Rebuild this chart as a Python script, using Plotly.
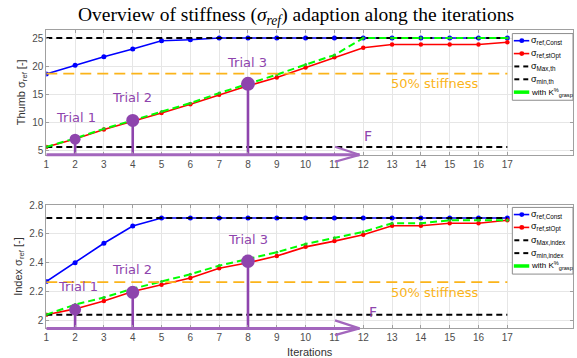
import plotly.graph_objects as go

# ---------------- data ----------------
iterations = list(range(1, 18))
x_tick_vals = list(range(1, 18))

thumb_const = [18.6, 20.2, 21.7, 23.1, 24.55, 24.75, 25.05, 25.05, 25.05, 25.05,
               25.05, 25.05, 25.05, 25.05, 25.05, 25.05, 25.05]
thumb_stopt = [5.56, 7.0, 8.68, 10.1, 11.65, 13.2, 14.9, 16.5, 18.0, 19.8,
               21.6, 23.3, 23.9, 23.9, 23.9, 23.9, 24.3]
thumb_grasp = [5.56, 7.1, 8.8, 10.3, 11.9, 13.4, 15.2, 16.8, 18.5, 20.3,
               22.0, 25.05, 25.05, 25.05, 25.05, 25.05, 25.05]
thumb_max = 25.05
thumb_min = 5.56
thumb_half = 18.7
thumb_yticks = [5, 10, 15, 20, 25]

index_const = [2.27, 2.40, 2.535, 2.655, 2.71, 2.71, 2.71, 2.71, 2.71, 2.71,
               2.71, 2.71, 2.71, 2.71, 2.71, 2.71, 2.71]
index_stopt = [2.04, 2.08, 2.135, 2.20, 2.247, 2.294, 2.362, 2.40, 2.446, 2.51,
               2.55, 2.594, 2.656, 2.656, 2.674, 2.674, 2.694]
index_grasp = [2.04, 2.11, 2.159, 2.22, 2.27, 2.32, 2.38, 2.424, 2.473, 2.53,
               2.574, 2.614, 2.674, 2.674, 2.694, 2.694, 2.694]
index_max = 2.71
index_min = 2.04
index_half = 2.265
index_yticks = [2.0, 2.2, 2.4, 2.6, 2.8]
index_yticklabels = ["2", "2.2", "2.4", "2.6", "2.8"]

trial_iters = [2, 4, 8]
trial_labels = ["Trial 1", "Trial 2", "Trial 3"]
thumb_trial = [6.95, 10.3, 16.85]
index_trial = [2.075, 2.195, 2.41]
force_arrow_end = 11.87

legend_thumb = ["σ<sub>ref,Const</sub>", "σ<sub>ref,stOpt</sub>", "σ<sub>Max,th</sub>",
                "σ<sub>min,th</sub>", "with K<sup>%</sup><sub>grasp</sub>"]
legend_index = ["σ<sub>ref,Const</sub>", "σ<sub>ref,stOpt</sub>", "σ<sub>Max,index</sub>",
                "σ<sub>min,index</sub>", "with K<sup>%</sup><sub>grasp</sub>"]

# ---------------- styling ----------------
W, H = 577, 358
BLUE = "#0000ff"
RED = "#ff0000"
GREEN = "#00ff00"
BLACK = "#000000"
ORANGE = "#fbb41a"
PURPLE = "#8e44ad"
PURPLE_ARROW = "#a366bd"
HAND_FONT = "DejaVu Sans"


def pxx(p):
    return p / W


def pxy(p):
    return 1 - p / H


fig = go.Figure()


def add_panel(xa, ya, const, stopt, grasp, vmax, vmin, half, trial_vals, sizes):
    xmax = [iterations[0], iterations[-1]]
    fig.add_trace(go.Scatter(x=iterations, y=const, mode="lines+markers", xaxis=xa, yaxis=ya,
                             line=dict(color=BLUE, width=1.6),
                             marker=dict(color=BLUE, size=5), showlegend=False))
    fig.add_trace(go.Scatter(x=iterations, y=stopt, mode="lines+markers", xaxis=xa, yaxis=ya,
                             line=dict(color=RED, width=1.6),
                             marker=dict(color=RED, size=4.5), showlegend=False))
    fig.add_trace(go.Scatter(x=xmax, y=[vmax, vmax], mode="lines", xaxis=xa, yaxis=ya,
                             line=dict(color=BLACK, width=2, dash="6px,4px"), showlegend=False))
    fig.add_trace(go.Scatter(x=xmax, y=[vmin, vmin], mode="lines", xaxis=xa, yaxis=ya,
                             line=dict(color=BLACK, width=2, dash="6px,4px"), showlegend=False))
    fig.add_trace(go.Scatter(x=iterations, y=grasp, mode="lines+markers", xaxis=xa, yaxis=ya,
                             line=dict(color=GREEN, width=2, dash="7px,4px"),
                             marker=dict(color="#22cc22", size=3), showlegend=False))
    fig.add_trace(go.Scatter(x=xmax, y=[half, half], mode="lines", xaxis=xa, yaxis=ya,
                             line=dict(color=ORANGE, width=1.8, dash="11px,6px"), showlegend=False))
    # stems
    sx, sy = [], []
    for xi, vi in zip(trial_iters, trial_vals):
        sx += [xi, xi, None]
        sy += [0, vi, None]
    fig.add_trace(go.Scatter(x=sx, y=sy, mode="lines", xaxis=xa, yaxis=ya,
                             line=dict(color=PURPLE, width=2.6), showlegend=False))
    fig.add_trace(go.Scatter(x=trial_iters, y=trial_vals, mode="markers", xaxis=xa, yaxis=ya,
                             marker=dict(color=PURPLE, size=sizes, opacity=1,
                                         line=dict(width=0)), showlegend=False))


add_panel("x", "y", thumb_const, thumb_stopt, thumb_grasp, thumb_max, thumb_min, thumb_half,
          thumb_trial, [11, 13, 14])
add_panel("x2", "y2", index_const, index_stopt, index_grasp, index_max, index_min, index_half,
          index_trial, [12, 13, 13.5])

axis_common = dict(showline=True, linecolor="#a0a0a0", linewidth=1, mirror="ticks",
                   ticks="inside", ticklen=3, tickcolor="#a0a0a0",
                   showgrid=True, gridcolor="#e6e6e6", gridwidth=1, zeroline=False,
                   tickfont=dict(family="Liberation Sans, Arial", size=10, color="#4d4d4d"))

x_dom = [pxx(43.5), pxx(573)]
fig.update_layout(
    xaxis=dict(domain=x_dom, range=[1, 19.28], tickvals=x_tick_vals, anchor="y", **axis_common),
    yaxis=dict(domain=[pxy(157.3), pxy(26)], range=[4.15, 26.53], tickvals=thumb_yticks,
               anchor="x",
               title=dict(text="Thumb σ<sub>ref</sub> [-]", standoff=4,
                          font=dict(family="Liberation Sans, Arial", size=11, color="#333333")),
               **axis_common),
    xaxis2=dict(domain=x_dom, range=[1, 19.28], tickvals=x_tick_vals, anchor="y2",
                title=dict(text="Iterations", standoff=7,
                           font=dict(family="Liberation Sans, Arial", size=11, color="#333333")),
                **axis_common),
    yaxis2=dict(domain=[pxy(339.5), pxy(209.7)], range=[1.945, 2.802], tickvals=index_yticks,
                ticktext=index_yticklabels, anchor="x2",
                title=dict(text="Index σ<sub>ref</sub> [-]", standoff=4,
                           font=dict(family="Liberation Sans, Arial", size=11, color="#333333")),
                **axis_common),
)

fig.update_layout(
    width=W, height=H, margin=dict(l=0, r=0, t=0, b=0),
    paper_bgcolor="white", plot_bgcolor="white", showlegend=False,
    title=dict(text="Overview of stiffness (<i>σ<sub>ref</sub></i>) adaption along the iterations",
               x=pxx(296), y=pxy(14), xanchor="center", yanchor="middle",
               font=dict(family="Liberation Serif, DejaVu Serif", size=19.5, color="#000000")),
)

shapes = []
annotations = []

# force arrows along the bottom of each panel
for xr, yr in [("x", "y domain"), ("x2", "y2 domain")]:
    shapes.append(dict(type="line", xref=xr, yref=yr, x0=iterations[0], x1=force_arrow_end,
                       y0=0, y1=0, line=dict(color=PURPLE_ARROW, width=3)))
    shapes.append(dict(type="line", xref=xr, yref=yr, x0=force_arrow_end - 0.85, y0=0.065,
                       x1=force_arrow_end, y1=0, line=dict(color=PURPLE_ARROW, width=2.2)))
    shapes.append(dict(type="line", xref=xr, yref=yr, x0=force_arrow_end - 0.85, y0=-0.055,
                       x1=force_arrow_end, y1=0, line=dict(color=PURPLE_ARROW, width=2.2)))

# hand-written style annotations
hand = dict(family=HAND_FONT, size=13, color=PURPLE)
orange_font = dict(family=HAND_FONT, size=13, color=ORANGE)
top_pos = [(2.02, 10.85), (3.99, 14.43), (7.95, 20.6)]
bot_pos = [(2.1, 2.232), (3.98, 2.353), (8.0, 2.564)]
for lbl, (tx, ty) in zip(trial_labels, top_pos):
    annotations.append(dict(text=lbl, x=tx, y=ty, xref="x", yref="y", showarrow=False, font=hand))
for lbl, (tx, ty) in zip(trial_labels, bot_pos):
    annotations.append(dict(text=lbl, x=tx, y=ty, xref="x2", yref="y2", showarrow=False, font=hand))
annotations.append(dict(text="50% stiffness", x=14.48, y=17.0, xref="x", yref="y",
                        showarrow=False, font=orange_font))
annotations.append(dict(text="50% stiffness", x=14.48, y=2.194, xref="x2", yref="y2",
                        showarrow=False, font=orange_font))
annotations.append(dict(text="F", x=12.17, y=7.5, xref="x", yref="y", showarrow=False,
                        font=dict(family=HAND_FONT, size=14, color=PURPLE)))
annotations.append(dict(text="F", x=12.34, y=2.062, xref="x2", yref="y2", showarrow=False,
                        font=dict(family=HAND_FONT, size=14, color=PURPLE)))


def add_legend(top_px, labels):
    left, right, height = 512, 573, 70
    shapes.append(dict(type="rect", xref="paper", yref="paper",
                       x0=pxx(left), x1=pxx(right), y0=pxy(top_px + height), y1=pxy(top_px),
                       fillcolor="white", line=dict(color="#8c8c8c", width=1)))
    row_off = [7.5, 21, 34.5, 48, 61.5]
    styles = [(BLUE, "solid", 1.6, True, 9), (RED, "solid", 1.6, True, 9),
              (BLACK, "dash", 2, False, 9), (BLACK, "dash", 2, False, 9),
              (GREEN, "solid", 3.5, False, 8)]
    for off, lbl, (col, dash, w, mk, fs) in zip(row_off, labels, styles):
        yy = pxy(top_px + off)
        if dash == "dash":
            for a, b in [(514, 519), (523, 528)]:
                shapes.append(dict(type="line", xref="paper", yref="paper", x0=pxx(a), x1=pxx(b),
                                   y0=yy, y1=yy, line=dict(color=col, width=w)))
        else:
            shapes.append(dict(type="line", xref="paper", yref="paper", x0=pxx(513.5), x1=pxx(529),
                               y0=yy, y1=yy, line=dict(color=col, width=w)))
        if mk:
            shapes.append(dict(type="circle", xref="paper", yref="paper",
                               x0=pxx(519), x1=pxx(524), y0=pxy(top_px + off + 2.5),
                               y1=pxy(top_px + off - 2.5), fillcolor=col, line=dict(color=col, width=0)))
        annotations.append(dict(text=lbl, x=pxx(528.5), y=yy, xref="paper", yref="paper",
                                xanchor="left", yanchor="middle", showarrow=False,
                                font=dict(family="Liberation Sans, Arial", size=fs, color="#000000")))


add_legend(30, legend_thumb)
add_legend(212.5, legend_index)

fig.update_layout(shapes=shapes, annotations=annotations)
fig.write_html("out.html")
